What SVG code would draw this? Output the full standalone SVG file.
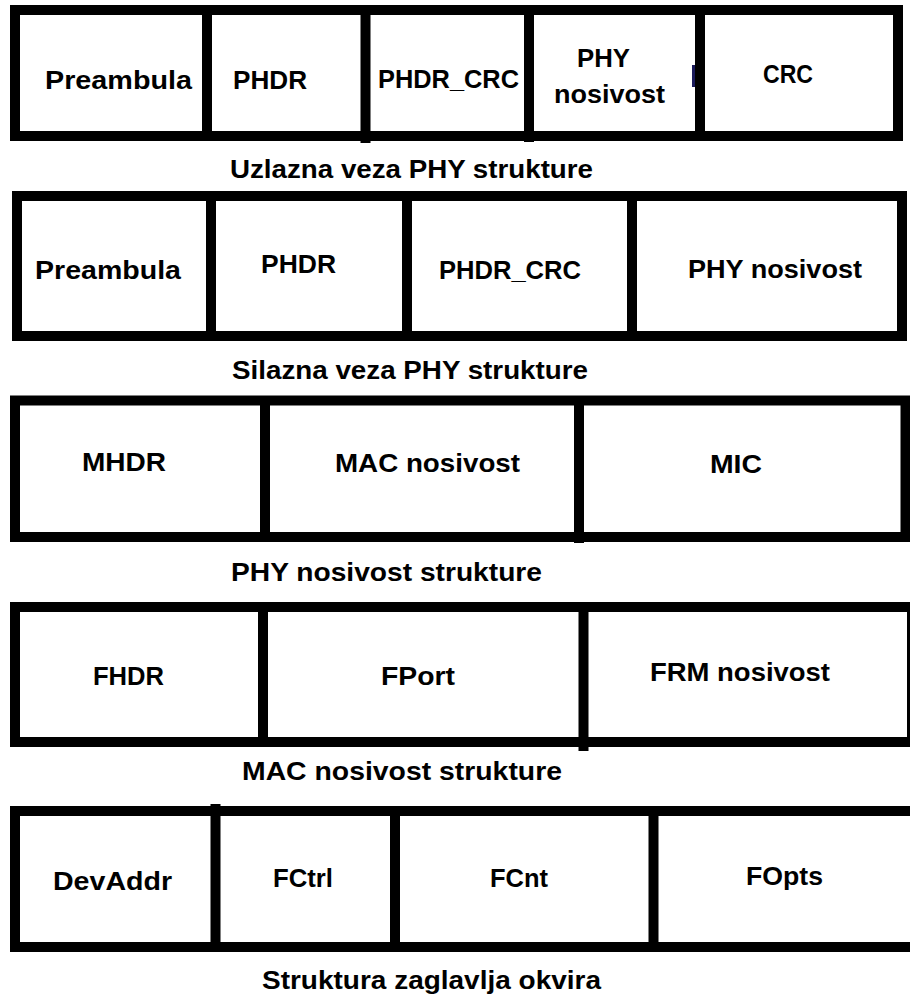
<svg xmlns="http://www.w3.org/2000/svg" width="910" height="998" viewBox="0 0 910 998">
<style>
.frame{fill:#fff;stroke:#000;stroke-width:10}
.div{stroke:#000;stroke-width:10;fill:none}
.t{font-family:"Liberation Sans",Arial,sans-serif;font-weight:bold;font-size:26px;fill:#000}
</style>
<rect width="910" height="998" fill="#fff"/>
<g id="row1">
  <rect class="frame" x="15" y="10" width="883" height="126"/>
  <line class="div" x1="207" y1="10" x2="207" y2="136"/>
  <line class="div" x1="365.5" y1="10" x2="365.5" y2="143"/>
  <line class="div" x1="529" y1="10" x2="529" y2="142"/>
  <line class="div" x1="700" y1="10" x2="700" y2="136"/>
  <rect x="692" y="65" width="3" height="22" fill="#1a1a5a"/>
  <g id="r1-preambula"><text class="t" x="45" y="89" textLength="147" lengthAdjust="spacingAndGlyphs">Preambula</text></g>
  <g id="r1-phdr"><text class="t" x="233" y="89" textLength="74" lengthAdjust="spacingAndGlyphs">PHDR</text></g>
  <g id="r1-phdrcrc"><text class="t" x="378" y="88" textLength="141" lengthAdjust="spacingAndGlyphs">PHDR_CRC</text></g>
  <g id="r1-phynosivost"><text class="t" x="577" y="67" textLength="53" lengthAdjust="spacingAndGlyphs">PHY</text><text class="t" x="554" y="103" textLength="111" lengthAdjust="spacingAndGlyphs">nosivost</text></g>
  <g id="r1-crc"><text class="t" x="763" y="83" textLength="50" lengthAdjust="spacingAndGlyphs">CRC</text></g>
  <text class="t" x="230" y="178" textLength="363" lengthAdjust="spacingAndGlyphs">Uzlazna veza PHY strukture</text>
</g>
<g id="row2">
  <rect class="frame" x="17" y="196" width="885" height="140"/>
  <line class="div" x1="211" y1="196" x2="211" y2="336"/>
  <line class="div" x1="407" y1="196" x2="407" y2="336"/>
  <line class="div" x1="632" y1="196" x2="632" y2="336"/>
  <g id="r2-preambula"><text class="t" x="35" y="279" textLength="146" lengthAdjust="spacingAndGlyphs">Preambula</text></g>
  <g id="r2-phdr"><text class="t" x="261" y="273" textLength="75" lengthAdjust="spacingAndGlyphs">PHDR</text></g>
  <g id="r2-phdrcrc"><text class="t" x="439" y="279" textLength="142" lengthAdjust="spacingAndGlyphs">PHDR_CRC</text></g>
  <g id="r2-phynosivost"><text class="t" x="688" y="278" textLength="174" lengthAdjust="spacingAndGlyphs">PHY nosivost</text></g>
  <text class="t" x="232" y="379" textLength="356" lengthAdjust="spacingAndGlyphs">Silazna veza PHY strukture</text>
</g>
<g id="row3">
  <rect class="frame" x="15" y="400.5" width="890.5" height="136.5"/>
  <line class="div" x1="265" y1="400.5" x2="265" y2="537"/>
  <line class="div" x1="579" y1="400.5" x2="579" y2="543"/>
  <g id="r3-mhdr"><text class="t" x="82" y="471" textLength="84" lengthAdjust="spacingAndGlyphs">MHDR</text></g>
  <g id="r3-macnosivost"><text class="t" x="335" y="472" textLength="185" lengthAdjust="spacingAndGlyphs">MAC nosivost</text></g>
  <g id="r3-mic"><text class="t" x="710" y="473" textLength="52" lengthAdjust="spacingAndGlyphs">MIC</text></g>
  <text class="t" x="231" y="581" textLength="311" lengthAdjust="spacingAndGlyphs">PHY nosivost strukture</text>
</g>
<g id="row4">
  <rect class="frame" x="15" y="607" width="897" height="135"/>
  <line class="div" x1="263" y1="607" x2="263" y2="742"/>
  <line class="div" x1="583.5" y1="607" x2="583.5" y2="751"/>
  <g id="r4-fhdr"><text class="t" x="93" y="685" textLength="71" lengthAdjust="spacingAndGlyphs">FHDR</text></g>
  <g id="r4-fport"><text class="t" x="381" y="685" textLength="74" lengthAdjust="spacingAndGlyphs">FPort</text></g>
  <g id="r4-frmnosivost"><text class="t" x="650" y="681" textLength="180" lengthAdjust="spacingAndGlyphs">FRM nosivost</text></g>
  <text class="t" x="242" y="780" textLength="320" lengthAdjust="spacingAndGlyphs">MAC nosivost strukture</text>
</g>
<g id="row5">
  <rect class="frame" x="15" y="811" width="905" height="136"/>
  <line class="div" x1="215.5" y1="804" x2="215.5" y2="947"/>
  <line class="div" x1="395" y1="811" x2="395" y2="947"/>
  <line class="div" x1="653.5" y1="811" x2="653.5" y2="947"/>
  <g id="r5-devaddr"><text class="t" x="53" y="890" textLength="119" lengthAdjust="spacingAndGlyphs">DevAddr</text></g>
  <g id="r5-fctrl"><text class="t" x="273" y="887" textLength="60" lengthAdjust="spacingAndGlyphs">FCtrl</text></g>
  <g id="r5-fcnt"><text class="t" x="490" y="887" textLength="58" lengthAdjust="spacingAndGlyphs">FCnt</text></g>
  <g id="r5-fopts"><text class="t" x="746" y="885" textLength="77" lengthAdjust="spacingAndGlyphs">FOpts</text></g>
  <text class="t" x="262" y="989" textLength="339" lengthAdjust="spacingAndGlyphs">Struktura zaglavlja okvira</text>
</g>
<g id="connectors"/>
</svg>
